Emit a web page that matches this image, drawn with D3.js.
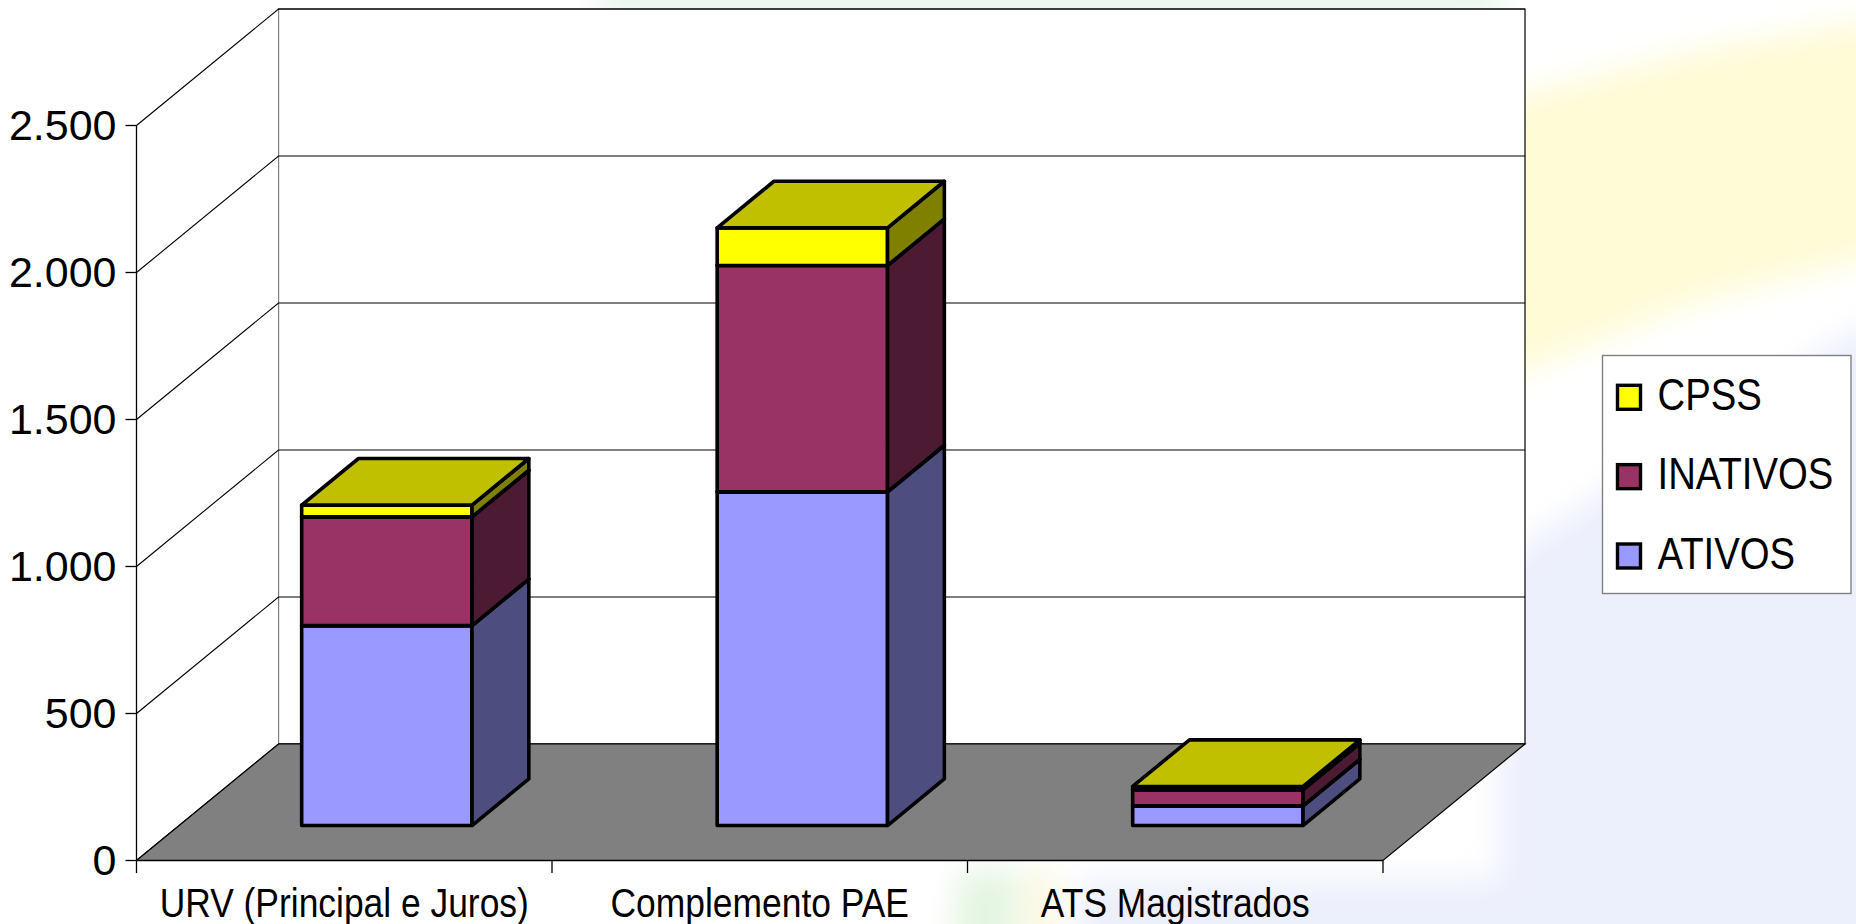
<!DOCTYPE html>
<html><head><meta charset="utf-8">
<script src="https://cdn.jsdelivr.net/npm/d3@7"></script>
<style>html,body{margin:0;padding:0;background:#fff;overflow:hidden} svg{display:block}</style>
</head><body>
<svg id="chart" width="1856" height="924"></svg>
<script>
// ---- data ----
const categories = ["URV (Principal e Juros)", "Complemento PAE", "ATS Magistrados"];
const seriesKeys = ["ATIVOS", "INATIVOS", "CPSS"];
const ativos   = [680, 1135, 67];
const inativos = [370, 770, 55];
const cpss     = [40, 128, 11];
const yTicks = [0, 500, 1000, 1500, 2000, 2500];
const yTickLabels = ["0", "500", "1.000", "1.500", "2.000", "2.500"];
const legendOrder = ["CPSS", "INATIVOS", "ATIVOS"];

// ---- styles / layout ----
const palette = {
  ATIVOS:   {front: "#9999FF", side: "#4D4D80", top: "#7373BF"},
  INATIVOS: {front: "#993366", side: "#4D1A33", top: "#73264D"},
  CPSS:     {front: "#FFFF00", side: "#808000", top: "#C0C000"}
};
const X0 = 136.5, X1 = 1383, Y0 = 860.5, YT = 125.5;
const DX = 142, DY = -116.5;
const Z0 = 0.3, Z1 = 0.7;
const FONT = "'Liberation Sans', Arial, Helvetica, sans-serif";

const svg = d3.select("#chart");
const defs = svg.append("defs");
defs.append("filter").attr("id", "blur").attr("x", "-50%").attr("y", "-50%").attr("width", "200%").attr("height", "200%")
  .append("feGaussianBlur").attr("stdDeviation", 16);

// ---- background (slide wash) ----
const bg = svg.append("g");
bg.append("rect").attr("width", 1856).attr("height", 924).attr("fill", "#ffffff");
const wash = bg.append("g").attr("filter", "url(#blur)");
wash.append("path").attr("d", "M1500,560 L1856,330 L1900,330 L1900,960 L1080,960 L1080,880 L1500,880 Z").attr("fill", "#ECEFFC");
wash.append("path").attr("d", "M1500,100 L1700,50 L1900,15 L1900,250 L1700,300 L1500,380 Z").attr("fill", "#FFFBD6");
wash.append("path").attr("d", "M600,-20 L1500,-20 L1500,12 L600,12 Z").attr("fill", "#E0F5E6");
wash.append("path").attr("d", "M960,870 L1020,870 L1010,960 L950,960 Z").attr("fill", "#E3F5E1");
wash.append("path").attr("d", "M1030,870 L1055,870 L1050,960 L1025,960 Z").attr("fill", "#FAF6D6");

// ---- scales ----
const y = d3.scaleLinear().domain([0, 2500]).range([Y0, YT]);
const xCat = d3.scaleBand().domain(categories).range([X0, X1]);
const xBar = d3.scaleBand().domain(categories).range([X0, X1]).paddingInner(0.59).paddingOuter(0.295);
const P = (x, v, z) => [x + z * DX, y(v) + z * DY];
const line = d3.line();

// ---- walls ----
const walls = svg.append("g");
walls.append("path")
  .attr("d", line([P(X0, 0, 1), P(X1, 0, 1), P(X1, 2500, 1), P(X0, 2500, 1)]) + "Z")
  .attr("fill", "#ffffff").attr("stroke", "#000").attr("stroke-width", 1.2);
walls.append("path")
  .attr("d", line([P(X0, 0, 0), P(X0, 0, 1), P(X0, 2500, 1), P(X0, 2500, 0)]) + "Z")
  .attr("fill", "#ffffff").attr("stroke", "none");
yTicks.forEach(t => {
  walls.append("path").attr("d", line([P(X0, t, 0), P(X0, t, 1), P(X1, t, 1)]))
    .attr("fill", "none").attr("stroke", "#000").attr("stroke-width", 1.1);
});
walls.append("path")
  .attr("d", line([P(X0, 0, 0), P(X1, 0, 0), P(X1, 0, 1), P(X0, 0, 1)]) + "Z")
  .attr("fill", "#808080").attr("stroke", "#000").attr("stroke-width", 1.2);

// ---- axes ----
const axes = svg.append("g").attr("font-family", FONT).attr("fill", "#000");
axes.append("line").attr("x1", X0).attr("x2", X0).attr("y1", y(0)).attr("y2", y(2500)).attr("stroke", "#000").attr("stroke-width", 1.3);
axes.append("line").attr("x1", X0).attr("x2", X1).attr("y1", y(0)).attr("y2", y(0)).attr("stroke", "#000").attr("stroke-width", 1.3);
yTicks.forEach((t, i) => {
  axes.append("line").attr("x1", X0 - 11).attr("x2", X0).attr("y1", y(t)).attr("y2", y(t)).attr("stroke", "#000").attr("stroke-width", 1.3);
  axes.append("text").attr("x", X0 - 20).attr("y", y(t) + 14.5).attr("text-anchor", "end")
    .attr("font-size", 43).text(yTickLabels[i]);
});
const bounds = categories.map(c => xCat(c)).concat([X1]);
bounds.forEach(b => {
  axes.append("line").attr("x1", b).attr("x2", b).attr("y1", y(0)).attr("y2", y(0) + 12.5).attr("stroke", "#000").attr("stroke-width", 1.3);
});
categories.forEach(c => {
  const t = axes.append("text").attr("x", xCat(c) + xCat.bandwidth() / 2).attr("y", 917)
    .attr("text-anchor", "middle").attr("font-size", 40).text(c);
  const w = t.node().getComputedTextLength();
  t.attr("textLength", w * 0.885).attr("lengthAdjust", "spacingAndGlyphs");
});

// ---- bars ----
const table = categories.map((c, i) => ({cat: c, ATIVOS: ativos[i], INATIVOS: inativos[i], CPSS: cpss[i]}));
const stacked = d3.stack().keys(seriesKeys)(table);
const barsG = svg.append("g");
categories.forEach((c, i) => {
  const xl = xBar(c), xr = xBar(c) + xBar.bandwidth();
  const g = barsG.append("g");
  stacked.forEach(layer => {
    const [v0, v1] = layer[i];
    const col = palette[layer.key];
    const faces = [
      {pts: [P(xl, v0, Z0), P(xr, v0, Z0), P(xr, v1, Z0), P(xl, v1, Z0)], fill: col.front},
      {pts: [P(xr, v0, Z0), P(xr, v0, Z1), P(xr, v1, Z1), P(xr, v1, Z0)], fill: col.side},
      {pts: [P(xl, v1, Z0), P(xr, v1, Z0), P(xr, v1, Z1), P(xl, v1, Z1)], fill: col.top}
    ];
    faces.forEach(f => {
      g.append("path").attr("d", line(f.pts) + "Z").attr("fill", f.fill)
        .attr("stroke", "#000").attr("stroke-width", 3.6).attr("stroke-linejoin", "round");
    });
  });
});

// ---- legend ----
const lg = svg.append("g").attr("font-family", FONT);
lg.append("rect").attr("x", 1602.5).attr("y", 355.5).attr("width", 248.5).attr("height", 238)
  .attr("fill", "#ffffff").attr("stroke", "#808080").attr("stroke-width", 1.4);
const rowY = d3.scalePoint().domain(legendOrder).range([397.3, 556]);
legendOrder.forEach(k => {
  const cy = rowY(k);
  lg.append("rect").attr("x", 1617.5).attr("y", cy - 12).attr("width", 23).attr("height", 24)
    .attr("fill", palette[k].front).attr("stroke", "#000").attr("stroke-width", 3.4);
  const t = lg.append("text").attr("x", 1657.5).attr("y", cy + 12.8).attr("font-size", 44).attr("fill", "#000").text(k);
  const w = t.node().getComputedTextLength();
  t.attr("textLength", w * 0.87).attr("lengthAdjust", "spacingAndGlyphs");
});
</script>
</body></html>
